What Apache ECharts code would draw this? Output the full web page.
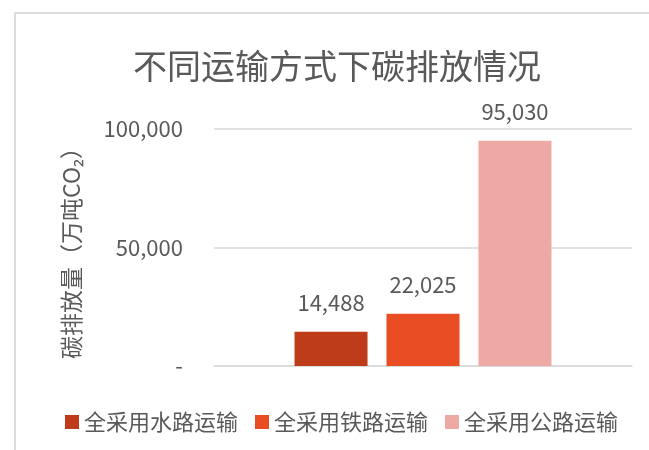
<!DOCTYPE html>
<html>
<head>
<meta charset="utf-8">
<script src="https://cdn.jsdelivr.net/npm/echarts@6/dist/echarts.min.js"></script>
<style>
  html, body, #main { width: 649px; height: 450px; margin: 0; background: #fff; }
</style>
</head>
<body>
<div id="main"></div>
<script>
var titleText = '不同运输方式下碳排放情况';
var yAxisName = '碳排放量（万吨CO₂）';
var categories = [''];
var seriesNames = ['全采用水路运输', '全采用铁路运输', '全采用公路运输'];
var waterValues = [14488];
var railValues = [22025];
var roadValues = [95030];
var colors = ['#BE3C1A', '#E84D24', '#EFA9A4'];

var FONT = '"Noto Sans CJK SC", "Noto Sans", sans-serif';
var TEXT = '#595959';

var chart = echarts.init(document.getElementById('main'));

function bar(name, data, color) {
    return {
        name: name,
        type: 'bar',
        data: data,
        barWidth: 73,
        barGap: '26%',
        itemStyle: { color: color },
        label: {
            show: true,
            position: 'top',
            distance: 18,
            color: TEXT,
            fontFamily: FONT,
            fontSize: 22,
            formatter: function (p) { return p.value.toLocaleString('en-US'); }
        }
    };
}

chart.setOption({
    animation: false,
    backgroundColor: '#fff',
    graphic: [{
        type: 'rect',
        shape: { x: 15, y: 13, width: 700, height: 500 },
        style: { fill: 'none', stroke: '#dcdcdc', lineWidth: 2 }
    }],
    title: {
        text: titleText,
        left: 128,
        top: 44,
        textStyle: { color: TEXT, fontFamily: FONT, fontSize: 34, fontWeight: 'normal' }
    },
    legend: {
        left: 60,
        top: 406,
        itemWidth: 14,
        itemHeight: 14,
        itemGap: 17,
        icon: 'rect',
        textStyle: { color: TEXT, fontFamily: FONT, fontSize: 22 },
        data: seriesNames
    },
    grid: { left: 214, right: 17, top: 129, bottom: 84 },
    xAxis: {
        type: 'category',
        data: categories,
        axisLine: { lineStyle: { color: '#d9d9d9', width: 1.5 } },
        axisTick: { show: false },
        axisLabel: { show: false }
    },
    yAxis: {
        type: 'value',
        min: 0,
        max: 100000,
        interval: 50000,
        name: yAxisName,
        nameLocation: 'middle',
        nameGap: 131,
        nameRotate: 90,
        nameTextStyle: { color: TEXT, fontFamily: FONT, fontSize: 23 },
        axisLine: { show: false },
        axisTick: { show: false },
        splitLine: { lineStyle: { color: '#d9d9d9', width: 1.5 } },
        axisLabel: {
            color: TEXT,
            fontFamily: FONT,
            fontSize: 22,
            margin: 31,
            formatter: function (v) { return v === 0 ? '-' : v.toLocaleString('en-US'); }
        }
    },
    series: [
        bar(seriesNames[0], waterValues, colors[0]),
        bar(seriesNames[1], railValues, colors[1]),
        bar(seriesNames[2], roadValues, colors[2])
    ]
});
</script>
</body>
</html>
